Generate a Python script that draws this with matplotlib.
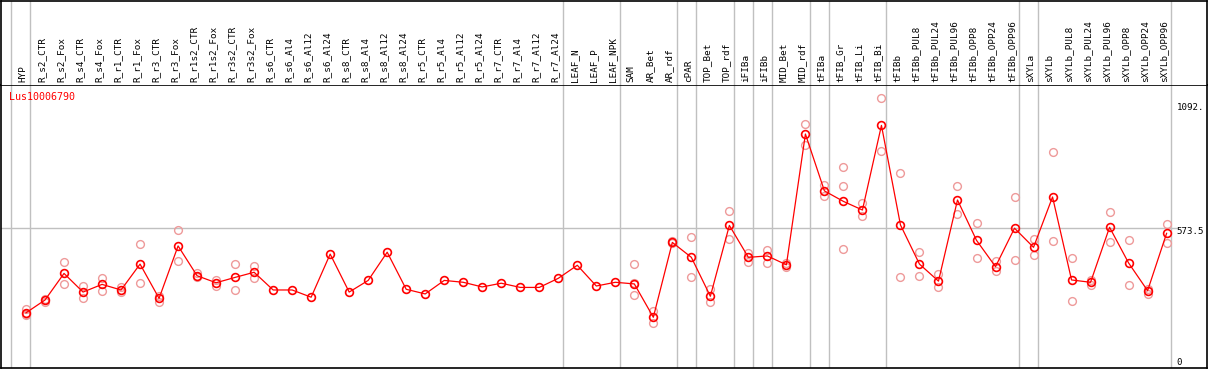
import numpy as np
import matplotlib
matplotlib.use('Agg')
import matplotlib.pyplot as plt

# sample labels (one column each)
labels = ['HYP', 'R_s2_CTR', 'R_s2_Fox', 'R_s4_CTR', 'R_s4_Fox', 'R_r1_CTR', 'R_r1_Fox',
          'R_r3_CTR', 'R_r3_Fox', 'R_r1s2_CTR', 'R_r1s2_Fox', 'R_r3s2_CTR', 'R_r3s2_Fox',
          'R_s6_CTR', 'R_s6_Al4', 'R_s6_Al12', 'R_s6_Al24', 'R_s8_CTR', 'R_s8_Al4',
          'R_s8_Al12', 'R_s8_Al24', 'R_r5_CTR', 'R_r5_Al4', 'R_r5_Al12', 'R_r5_Al24',
          'R_r7_CTR', 'R_r7_Al4', 'R_r7_Al12', 'R_r7_Al24', 'LEAF_N', 'LEAF_P', 'LEAF_NPK',
          'SAM', 'AR_Bet', 'AR_rdf', 'cPAR', 'TOP_Bet', 'TOP_rdf', 'iFIBa', 'iFIBb',
          'MID_Bet', 'MID_rdf', 'tFIBa', 'tFIB_Gr', 'tFIB_Li', 'tFIB_Bi', 'tFIBb',
          'tFIBb_PUL8', 'tFIBb_PUL24', 'tFIBb_PUL96', 'tFIBb_OPP8', 'tFIBb_OPP24',
          'tFIBb_OPP96', 'sXYLa', 'sXYLb', 'sXYLb_PUL8', 'sXYLb_PUL24', 'sXYLb_PUL96',
          'sXYLb_OPP8', 'sXYLb_OPP24', 'sXYLb_OPP96']

# mean expression per sample
means = [211, 266, 380, 300, 333, 309, 420, 273, 498, 370, 340, 363, 385,
         309, 309, 278, 463, 300, 350, 471, 312, 292, 350, 342, 322,
         338, 320, 320, 359, 415, 326, 342,
         335, 192, 513, 449, 282, 586, 449, 455, 417, 978,
         734, 689, 652, 1015, 588,
         420, 347, 695, 522, 409, 574,
         492, 708, 352, 342, 578, 425, 306, 552]

# replicate values (empty where replicates overlap the mean)
reps = [[226, 205, 203], [270, 256], [428, 333], [326, 273], [360, 303], [323, 299],
        [506, 338], [283, 257], [566, 432], [380, 366], [352, 326], [420, 308], [412, 359],
        [], [], [], [], [], [], [], [], [], [], [], [], [], [], [], [], [], [], [],
        [420, 340, 286], [220, 166], [518, 510], [536, 363], [312, 256], [648, 526],
        [466, 429], [480, 426], [426, 406], [1020, 930],
        [759, 712], [835, 754, 485], [683, 626], [1131, 904], [811, 363],
        [471, 369], [376, 320], [754, 635], [595, 446], [433, 392], [708, 436],
        [528, 458], [901, 518], [446, 262], [352, 330], [644, 514], [522, 329],
        [312, 293], [592, 512]]

# group separators: line after these column indices
separators = [-1, 0, 28, 31, 34, 35, 37, 38, 39, 41, 42, 45, 52, 53, 60]

gene = 'Lus10006790'
ytick_vals = [1092, 573.5, 0]
ytick_text = ['1092.', '573.5', '0']
grid_val = 573.5

W, H = 1209, 370
fig = plt.figure(figsize=(W / 100, H / 100), dpi=100)

x = np.arange(len(labels))
xlim = ((1 - 26) / 19.01, (1207 - 26) / 19.01)
ylim = (-25.7, 1188.3)

# main plot area
ax = fig.add_axes([1 / W, 2 / H, 1206 / W, 283 / H])
ax.set_xlim(*xlim)
ax.set_ylim(*ylim)

for sep in separators:
    ax.axvline(sep + 0.23, color='#c0c0c0', lw=1, zorder=1)
ax.axhline(grid_val, xmin=0, xmax=0.975, color='#c0c0c0', lw=1, zorder=1)

rx = [i for i, r in enumerate(reps) for _ in r]
ry = [v for r in reps for v in r]
ax.plot(rx, ry, ls='none', marker='o', ms=5.6, mfc='none',
        mec='#ee9a9a', mew=1, zorder=2)
ax.plot(x, means, color='red', lw=0.9, marker='o', ms=5.6, mfc='none',
        mec='red', mew=1.2, zorder=3)

ax.text(8 / 1206, 1 - 12 / 283, gene, transform=ax.transAxes, color='red',
        family='DejaVu Sans Mono', fontsize=7.2, va='center', ha='left')

for v, t in zip(ytick_vals, ytick_text):
    yv = v
    if t == '573.5':
        yv = v - 15
    ax.text(0.975, yv, t, transform=ax.get_yaxis_transform(), family='DejaVu Sans Mono',
            fontsize=6.6, va='center', ha='left', color='black')

ax.set_xticks([])
ax.set_yticks([])
for s in ax.spines.values():
    s.set_linewidth(1.2)

# header with rotated sample names
hx = fig.add_axes([1 / W, (H - 85) / H, 1206 / W, 84 / H])
hx.set_xlim(*xlim)
hx.set_ylim(0, 85)
for sep in separators:
    hx.axvline(sep + 0.23, color='#c0c0c0', lw=1, zorder=1)
for i, lab in enumerate(labels):
    hx.text(i - 0.16, 3, lab, rotation=90, family='DejaVu Sans Mono', fontsize=6.7,
            ha='center', va='bottom', color='black')
hx.set_xticks([])
hx.set_yticks([])
hx.spines['bottom'].set_visible(False)
for s in hx.spines.values():
    s.set_linewidth(1.2)

fig.savefig('out.png', dpi=100)
